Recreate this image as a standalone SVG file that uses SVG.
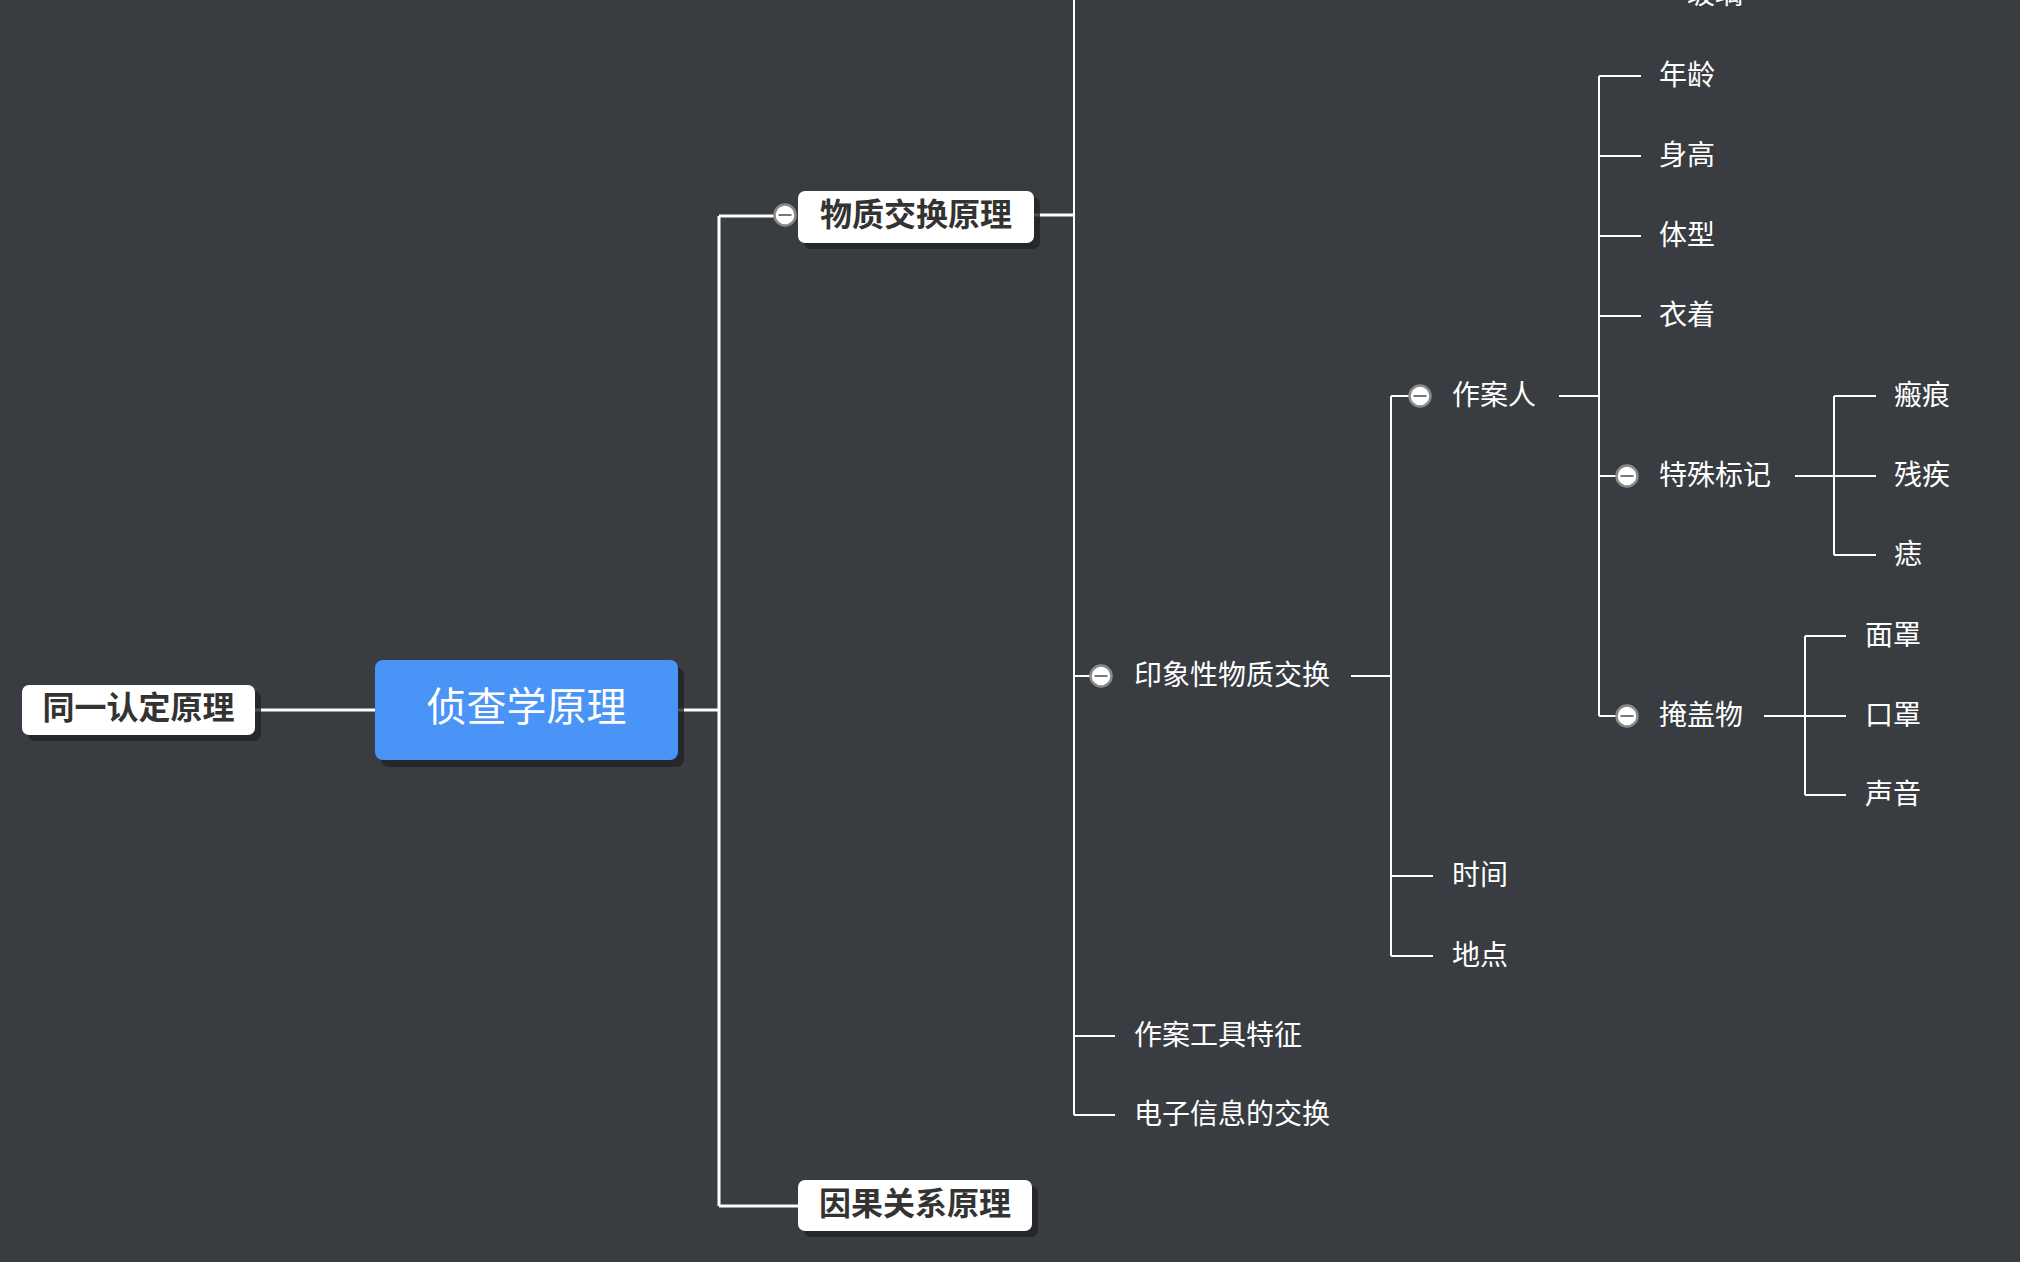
<svg xmlns="http://www.w3.org/2000/svg" width="2020" height="1262" viewBox="0 0 2020 1262">
<defs>
<style>
.bg{fill:#393c41}
.ln{fill:none;stroke:#ffffff;stroke-width:2}
.lnm{fill:none;stroke:#ffffff;stroke-width:3}
.shadow{fill:#202226;opacity:0.8}
.box{fill:#ffffff}
.boxt{font-family:"Noto Sans CJK SC","Noto Sans",sans-serif;font-weight:bold;font-size:32px;fill:#333333}
.leaf{font-family:"Noto Sans CJK SC","Noto Sans",sans-serif;font-size:28px;fill:#ffffff}
.center{fill:#4a94f8}
.centert{font-family:"Noto Sans CJK SC","Noto Sans",sans-serif;font-size:40px;fill:#ffffff}
.cc{fill:#ffffff;stroke:#8a8a8a;stroke-width:2.5}
.cm{stroke:#777777;stroke-width:2}
</style>
<g id="collapse">
<circle class="cc" cx="0" cy="0" r="10.5"/>
<line class="cm" x1="-6.5" y1="0" x2="6.5" y2="0"/>
</g>
</defs>
<rect class="bg" x="0" y="0" width="2020" height="1262"/>

<g id="connectors">
<path class="lnm" d="M255 710 H375"/>
<path class="lnm" d="M678 710 H719"/>
<path class="lnm" d="M719 216 V1206"/>
<path class="lnm" d="M719 216 H775"/>
<path class="lnm" d="M719 1206 H798"/>
<path class="lnm" d="M1034 215 H1074"/>
<path class="ln" d="M1074 0 V1115"/>
<path class="ln" d="M1074 676 H1091"/>
<path class="ln" d="M1074 1036 H1115"/>
<path class="ln" d="M1074 1115 H1115"/>
<path class="ln" d="M1351 676 H1391"/>
<path class="ln" d="M1391 396 V956"/>
<path class="ln" d="M1391 396 H1410"/>
<path class="ln" d="M1391 876 H1433"/>
<path class="ln" d="M1391 956 H1433"/>
<path class="ln" d="M1559 396 H1599"/>
<path class="ln" d="M1599 76 V716"/>
<path class="ln" d="M1599 76 H1641"/>
<path class="ln" d="M1599 156 H1641"/>
<path class="ln" d="M1599 236 H1641"/>
<path class="ln" d="M1599 316 H1641"/>
<path class="ln" d="M1599 476 H1617"/>
<path class="ln" d="M1599 716 H1617"/>
<path class="ln" d="M1795 476 H1834"/>
<path class="ln" d="M1834 396 V555"/>
<path class="ln" d="M1834 396 H1876"/>
<path class="ln" d="M1834 476 H1876"/>
<path class="ln" d="M1834 555 H1876"/>
<path class="ln" d="M1764 716 H1805"/>
<path class="ln" d="M1805 636 V795"/>
<path class="ln" d="M1805 636 H1846"/>
<path class="ln" d="M1805 716 H1846"/>
<path class="ln" d="M1805 795 H1846"/>
</g>

<g id="node-root">
<rect class="shadow" x="381" y="667" width="303" height="100" rx="8"/>
<rect class="center" x="375" y="660" width="303" height="100" rx="8"/>
<text class="centert" x="526.5" y="704" text-anchor="middle" dominant-baseline="central">侦查学原理</text>
</g>

<g id="node-tongyi">
<rect class="shadow" x="28" y="691" width="233" height="50" rx="7"/>
<rect class="box" x="22" y="685" width="233" height="50" rx="7"/>
<text class="boxt" x="138.5" y="705" text-anchor="middle" dominant-baseline="central">同一认定原理</text>
</g>

<g id="node-wuzhi">
<rect class="shadow" x="804" y="197" width="236" height="52" rx="7"/>
<rect class="box" x="798" y="191" width="236" height="52" rx="7"/>
<text class="boxt" x="916" y="212" text-anchor="middle" dominant-baseline="central">物质交换原理</text>
<use href="#collapse" x="785" y="215"/>
</g>

<g id="node-yinguo">
<rect class="shadow" x="804" y="1186" width="234" height="51" rx="7"/>
<rect class="box" x="798" y="1180" width="234" height="51" rx="7"/>
<text class="boxt" x="915" y="1201" text-anchor="middle" dominant-baseline="central">因果关系原理</text>
</g>

<g id="node-boli"><text class="leaf" x="1687" y="-8" dominant-baseline="central">玻璃</text></g>

<g id="node-yinxiang">
<use href="#collapse" x="1101" y="676"/>
<text class="leaf" x="1134" y="673" dominant-baseline="central">印象性物质交换</text>
</g>
<g id="node-zuoanren">
<use href="#collapse" x="1420" y="396"/>
<text class="leaf" x="1452" y="393" dominant-baseline="central">作案人</text>
</g>
<g id="node-nianling"><text class="leaf" x="1659" y="73" dominant-baseline="central">年龄</text></g>
<g id="node-shengao"><text class="leaf" x="1659" y="153" dominant-baseline="central">身高</text></g>
<g id="node-tixing"><text class="leaf" x="1659" y="233" dominant-baseline="central">体型</text></g>
<g id="node-yizhuo"><text class="leaf" x="1659" y="313" dominant-baseline="central">衣着</text></g>
<g id="node-teshu">
<use href="#collapse" x="1627" y="476"/>
<text class="leaf" x="1659" y="473" dominant-baseline="central">特殊标记</text>
</g>
<g id="node-banhen"><text class="leaf" x="1894" y="393" dominant-baseline="central">瘢痕</text></g>
<g id="node-canji"><text class="leaf" x="1894" y="473" dominant-baseline="central">残疾</text></g>
<g id="node-zhi"><text class="leaf" x="1894" y="552" dominant-baseline="central">痣</text></g>
<g id="node-yangai">
<use href="#collapse" x="1627" y="716"/>
<text class="leaf" x="1659" y="713" dominant-baseline="central">掩盖物</text>
</g>
<g id="node-mianzhao"><text class="leaf" x="1865" y="633" dominant-baseline="central">面罩</text></g>
<g id="node-kouzhao"><text class="leaf" x="1865" y="713" dominant-baseline="central">口罩</text></g>
<g id="node-shengyin"><text class="leaf" x="1865" y="792" dominant-baseline="central">声音</text></g>
<g id="node-shijian"><text class="leaf" x="1452" y="873" dominant-baseline="central">时间</text></g>
<g id="node-didian"><text class="leaf" x="1452" y="953" dominant-baseline="central">地点</text></g>
<g id="node-gongju"><text class="leaf" x="1134" y="1033" dominant-baseline="central">作案工具特征</text></g>
<g id="node-dianzi"><text class="leaf" x="1134" y="1112" dominant-baseline="central">电子信息的交换</text></g>
</svg>
